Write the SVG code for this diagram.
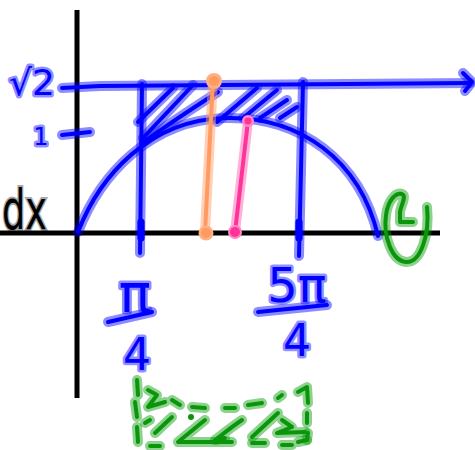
<svg xmlns="http://www.w3.org/2000/svg" xmlns:xlink="http://www.w3.org/1999/xlink" width="475" height="450" viewBox="0 0 475 450">
<style>
.bh{fill:none;stroke:#0000ff;stroke-opacity:0.45;stroke-width:10;stroke-linecap:round;stroke-linejoin:round}
.bc{fill:none;stroke:#0000ff;stroke-width:4;stroke-linecap:round;stroke-linejoin:round}
.gh{fill:none;stroke:#009900;stroke-opacity:0.45;stroke-width:10;stroke-linecap:round;stroke-linejoin:round}
.gc{fill:none;stroke:#0a960a;stroke-width:4;stroke-linecap:round;stroke-linejoin:round}
.ax{fill:none;stroke:#000;stroke-width:5;stroke-linecap:butt}
.lbl{font-family:"DejaVu Sans",sans-serif;fill:#0000ff;stroke:#0000ff;stroke-opacity:0.45;stroke-width:5;paint-order:stroke;stroke-linejoin:round}
</style>
<defs>
<g id="blue">
<path d="M62,88 L100,86 L470,83"/>
<path d="M463,73 L472,82 L465,91"/>
<path d="M62,135 L90,132"/>
<path d="M78,232 C100,175 150,120 225,118 C300,116 360,160 378,236"/>
<path d="M142,84 L141,170 L140,253"/>
<path d="M303,82 L301,170 L299,256"/>
<path d="M141,222 L141,238 M299,222 L299,238" stroke-width="7"/>
<path d="M138,122 L173,88"/>
<path d="M143,138 L193,85"/>
<path d="M144,142 C160,130 190,110 218,92"/>
<path d="M217,122 L257,88"/>
<path d="M243,118 L277,90"/>
<path d="M260,118 L287,100"/>
<path d="M280,118 L297,107"/>
<path d="M108,322 L152,312"/>
<path d="M258,312 L327,305"/>
</g>
<g id="green">
<path d="M137,380 L138,395 M135,402 L137,417 M137,427 L138,442"/>
<path d="M150,446 L160,446 M252,443 L265,443 M282,445 L292,445 M298,442 L307,440"/>
<path d="M298,392 L307,387 L308,403 M307,413 L307,423 M308,433 L307,440"/>
<path d="M148,390 L157,395 L148,407 L165,402 M172,400 L180,405 M192,407 L205,408 M225,408 L235,408 M248,405 L262,403 M278,398 L282,395"/>
<path d="M145,423 L150,420 M155,433 L172,417"/>
<path d="M205,420 L178,442 L232,442"/>
<path d="M242,420 C230,428 218,438 215,440 L225,438"/>
<path d="M278,413 L252,437 M282,420 L292,427 L277,433 L305,432"/>
<path d="M427,207 C430,236 420,262 407,262 C392,262 383,236 386,215 C388,200 396,192 402,194 C407,196 401,205 400,212 L400,222 L413,222"/>
</g>
</defs>
<g id="axes">
<path class="ax" d="M77,10 L77,398"/>
<path class="ax" d="M0,233 L440,233"/>
</g>
<g id="blue-strokes">
<use xlink:href="#blue" class="bh"/>
<use xlink:href="#blue" class="bc"/>
</g>
<g id="segments">
<path d="M213,80 L205,232" fill="none" stroke="#ffa070" stroke-opacity="0.5" stroke-width="10" stroke-linecap="round"/>
<path d="M213,80 L205,232" fill="none" stroke="#ff9a60" stroke-width="4" stroke-linecap="round"/>
<circle cx="214" cy="81" r="8" fill="#ffb080"/>
<circle cx="214" cy="81" r="5" fill="#ff9a60"/>
<circle cx="206" cy="233" r="7.5" fill="#ffb080"/>
<circle cx="206" cy="233" r="5" fill="#ff9a60"/>
<path d="M248,121 L235,232" fill="none" stroke="#ff66b3" stroke-opacity="0.5" stroke-width="10" stroke-linecap="round"/>
<path d="M248,121 L235,232" fill="none" stroke="#ff3399" stroke-width="4" stroke-linecap="round"/>
<circle cx="248" cy="121" r="6" fill="#ff88c4"/>
<circle cx="248" cy="121" r="3.5" fill="#ff3399"/>
<circle cx="235" cy="232" r="7" fill="#ff88c4"/>
<circle cx="235" cy="232" r="5" fill="#ff3399"/>
</g>
<g id="green-strokes">
<use xlink:href="#green" class="gh"/>
<use xlink:href="#green" class="gc"/>
<circle cx="191" cy="417" r="3" fill="#0a960a"/>
</g>
<g id="labels">
<text class="lbl" x="9" y="95" font-size="36">√2</text>
<text class="lbl" x="41" y="145" font-size="24" text-anchor="middle">1</text>
<text x="2" y="229" font-size="56" textLength="45" lengthAdjust="spacingAndGlyphs" font-family="DejaVu Sans,sans-serif" fill="#000" stroke="#000" stroke-opacity="0.35" stroke-width="4" paint-order="stroke">dx</text>
<text class="lbl" x="135" y="312" font-size="54" text-anchor="middle">π</text>
<text class="lbl" x="137" y="370" font-size="44" text-anchor="middle">4</text>
<text class="lbl" x="297" y="302" font-size="48" text-anchor="middle">5π</text>
<text class="lbl" x="297" y="356" font-size="44" text-anchor="middle">4</text>
</g>
</svg>
